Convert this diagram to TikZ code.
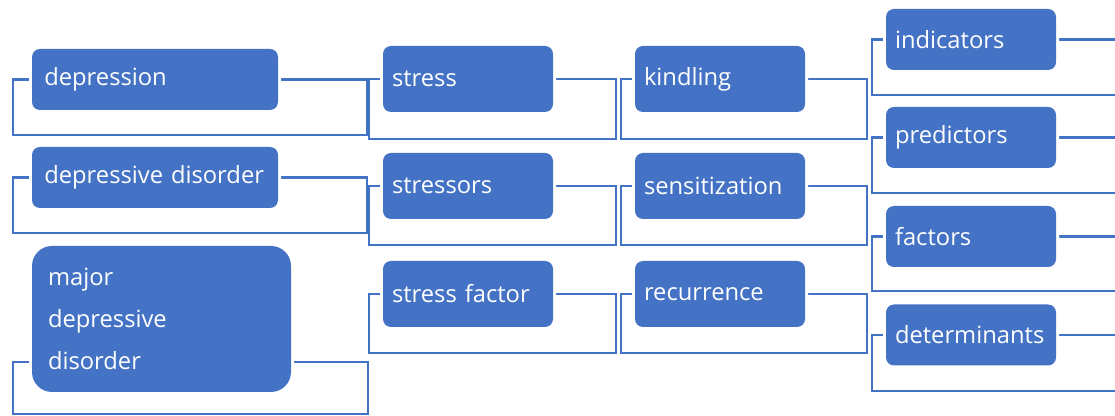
\documentclass[tikz,border=0pt]{standalone}
\usepackage{fontspec}
\setmainfont{Open Sans}
\usetikzlibrary{backgrounds,calc}
\definecolor{ofblue}{HTML}{4472C4}
\begin{document}
\begin{tikzpicture}[x=0.75pt,y=-0.75pt,
  box/.style={fill=ofblue, rounded corners=6pt, text=white,
    font=\fontsize{17.8}{21}\selectfont, align=left, inner ysep=0pt,
    preaction={draw=white,line width=4.5pt}},
  col1/.style={box, minimum width=184.5pt, text width=166pt, inner xsep=8.25pt, minimum height=45.75pt},
  colA/.style={box, minimum width=127.5pt, text width=114pt, inner xsep=6.75pt, minimum height=49.5pt},
  colB/.style={box, minimum width=127.5pt, text width=114pt, inner xsep=6.75pt, minimum height=45.75pt},
  bracket/.style={draw=ofblue, line width=1.8pt}]
\useasboundingbox (0,0) rectangle (1115,416);

% column 1
\node[col1] (dep) at (155,79.5) {depression};
\node[col1] (dd) at (155,177.5) {depressive disorder};
\node[box, rounded corners=15pt, minimum width=194.25pt, text width=170.25pt, inner xsep=12pt,
      minimum height=109.5pt, font=\fontsize{17.8}{31.5}\selectfont] (mdd) at (161.5,319)
      {major\\depressive\\disorder};

% column 2
\node[colA] (s1) at (468,79) {stress};
\node[colA] (s2) at (468,186) {stressors};
\node[colA] (s3) at (468,294) {stress factor};

% column 3
\node[colA] (k1) at (720,79) {kindling};
\node[colA] (k2) at (720,186) {sensitization};
\node[colA] (k3) at (720,294) {recurrence};

% column 4
\node[colB] (i1) at (971,39.5) {indicators};
\node[colB] (i2) at (971,137.5) {predictors};
\node[colB] (i3) at (971,236.5) {factors};
\node[colB] (i4) at (971,335) {determinants};

\begin{pgfonlayer}{background}
  \draw[bracket] (dep.west) -| (13,135) -| (367,79.5) -- (dep.east);
  \draw[bracket] (dd.west) -| (13,233) -| (367,177.5) -- (dd.east);
  \draw[bracket] ($(mdd.west)+(0,43)$) -| (13,414) -| (368,362) -- ($(mdd.east)+(0,43)$);

  \draw[bracket] (s1.west) -| (369,139) -| (616,79) -- (s1.east);
  \draw[bracket] (s2.west) -| (369,245) -| (616,186) -- (s2.east);
  \draw[bracket] (s3.west) -| (369,353) -| (616,294) -- (s3.east);

  \draw[bracket] (k1.west) -| (621,139) -| (867,79) -- (k1.east);
  \draw[bracket] (k2.west) -| (621,245) -| (867,186) -- (k2.east);
  \draw[bracket] (k3.west) -| (621,353) -| (867,294) -- (k3.east);

  \draw[bracket] (i1.west) -| (872,95) -- (1116,95);
  \draw[bracket] (i1.east) -- (1116,39.5);
  \draw[bracket] (i2.west) -| (872,193) -- (1116,193);
  \draw[bracket] (i2.east) -- (1116,137.5);
  \draw[bracket] (i3.west) -| (872,291) -- (1116,291);
  \draw[bracket] (i3.east) -- (1116,236.5);
  \draw[bracket] (i4.west) -| (872,391) -- (1116,391);
  \draw[bracket] (i4.east) -- (1116,335);
\end{pgfonlayer}
\end{tikzpicture}
\end{document}
